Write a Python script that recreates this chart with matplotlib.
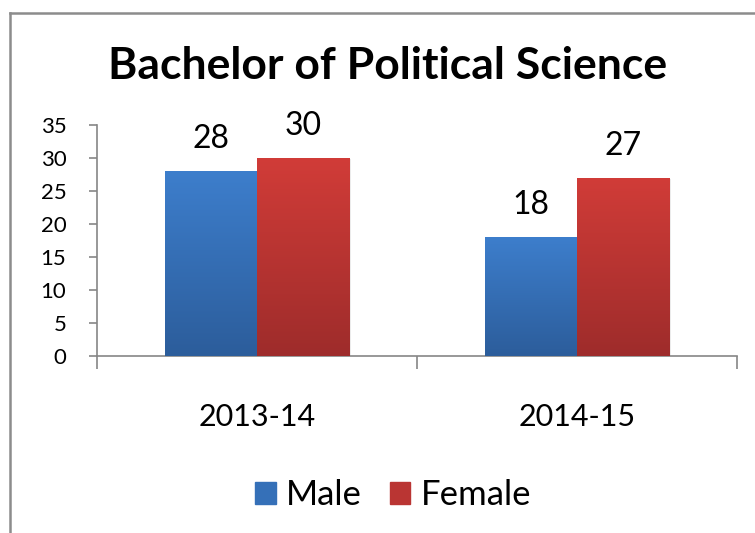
import numpy as np
import matplotlib.pyplot as plt
from matplotlib.lines import Line2D
from matplotlib.colors import LinearSegmentedColormap

plt.rcParams['font.family'] = ['Lato', 'DejaVu Sans']

years = ["2013-14", "2014-15"]
male = [28, 18]
female = [30, 27]
series_names = ["Male", "Female"]

# top and bottom colours for each series gradient
grad_colors = [("#3d7ecc", "#2c5d9b"), ("#d13c38", "#9e2c2b")]
mid_colors = ["#3570b8", "#ba3533"]


def gradient_fill(ax, bar, top, bottom):
    cmap = LinearSegmentedColormap.from_list("g", [bottom, top])
    x0, y0 = bar.get_x(), bar.get_y()
    w, h = bar.get_width(), bar.get_height()
    img = ax.imshow(np.linspace(0, 1, 256).reshape(-1, 1), cmap=cmap,
                    extent=[x0, x0 + w, y0, y0 + h], origin="lower",
                    aspect="auto", zorder=3)
    img.set_clip_path(bar)


fig = plt.figure(figsize=(7.55, 5.33), dpi=100)
ax = fig.add_axes([97 / 755, 1 - 356 / 533, 640 / 755, 231 / 533])

x = np.arange(len(years))
width = 0.288
for i, (vals, name) in enumerate(zip([male, female], series_names)):
    offs = (i - 0.5) * width
    bars = ax.bar(x + offs, vals, width, color=mid_colors[i], label=name,
                  zorder=2, linewidth=0)
    for b, v in zip(bars, vals):
        # soft drop shadow behind each bar
        ax.bar(b.get_x() + b.get_width() / 2 + 0.006, v, b.get_width(),
               bottom=-0.15, color="#000000", alpha=0.08, zorder=1,
               linewidth=0)
        gradient_fill(ax, b, *grad_colors[i])
        ax.annotate(str(v), (b.get_x() + b.get_width() / 2, v),
                    xytext=(0, 23), textcoords="offset points",
                    ha="center", va="center", fontsize=23)

ax.set_xlim(-0.5, 1.5)
ax.set_ylim(0, 35)
ax.set_yticks(range(0, 36, 5))
ax.tick_params(axis="y", labelsize=16, length=6, width=1.2,
               color="#868686", pad=16)
ax.set_xticks([-0.5, 0.5, 1.5])
ax.set_xticklabels([])
ax.tick_params(axis="x", which="major", length=9, width=1.2, color="#868686")
ax.set_xticks(x, minor=True)
ax.set_xticklabels(years, minor=True, fontsize=22)
ax.tick_params(axis="x", which="minor", length=0, pad=34)

for s in ["top", "right"]:
    ax.spines[s].set_visible(False)
for s in ["left", "bottom"]:
    ax.spines[s].set_color("#868686")
    ax.spines[s].set_linewidth(1.2)

fig.text(388 / 755, 1 - 66 / 533, "Bachelor of Political Science",
         ha="center", va="center", fontsize=32, fontweight="bold")

handles = [plt.Rectangle((0, 0), 1, 1, color=c) for c in mid_colors]
fig.legend(handles, series_names, loc="center", ncol=2, frameon=False,
           bbox_to_anchor=(393 / 755, 1 - 495 / 533), fontsize=25,
           handlelength=0.6, handleheight=0.6, handletextpad=0.3,
           columnspacing=0.8)

# outer chart border
fig.add_artist(Line2D([10 / 755, 10 / 755], [0, 1 - 13 / 533],
                      transform=fig.transFigure, color="#8c8c8c", lw=1.8))
fig.add_artist(Line2D([10 / 755, 1], [1 - 13 / 533, 1 - 13 / 533],
                      transform=fig.transFigure, color="#8c8c8c", lw=1.8))

fig.savefig("out.png", dpi=100)
